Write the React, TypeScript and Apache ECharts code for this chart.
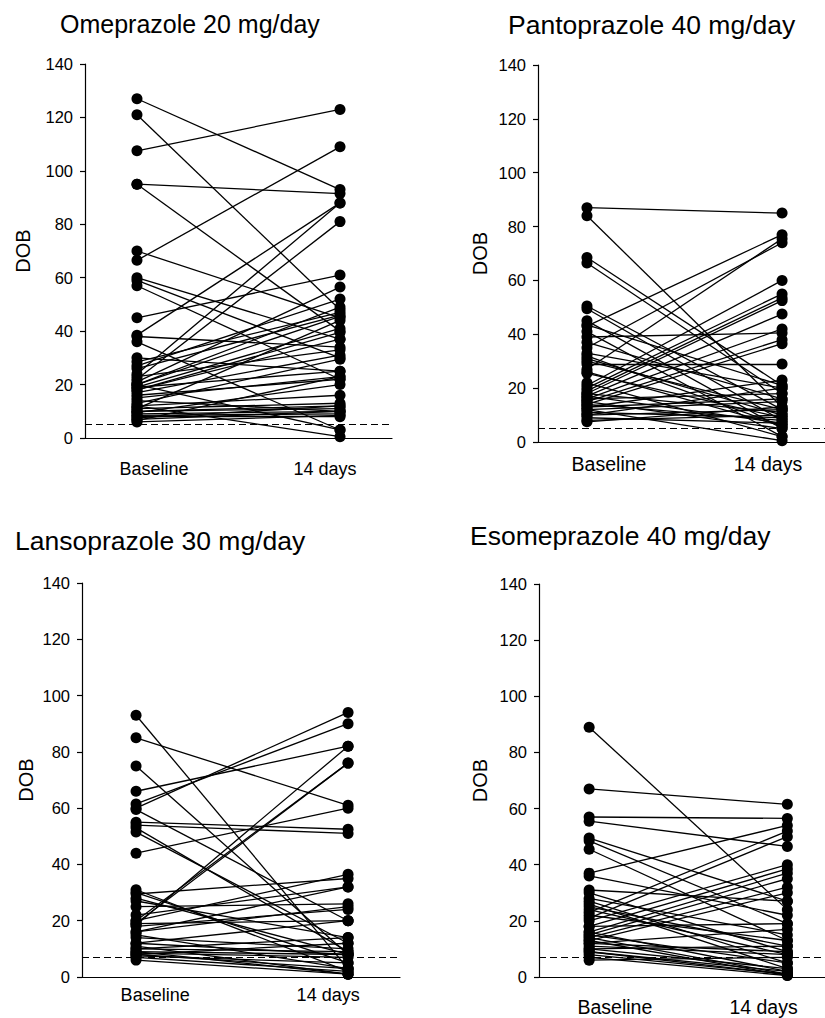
import React, { useEffect, useRef } from "react";
import * as echarts from "echarts";

// ---- Data ----
const titles = [
  "Omeprazole 20 mg/day",
  "Pantoprazole 40 mg/day",
  "Lansoprazole 30 mg/day",
  "Esomeprazole 40 mg/day",
];
const xLabels = ["Baseline", "14 days"];
const yTicks = [0, 20, 40, 60, 80, 100, 120, 140];
const yAxisName = "DOB";
const cutoffs = [5, 5, 7, 7];

const omeBaseline = [127, 121, 107.5, 95, 95, 70, 66.5, 60, 59, 57, 45, 38.5, 38, 36, 30, 28.5, 27, 24, 22, 21, 20, 20, 19, 18, 18, 17, 16, 15, 20, 13, 12, 11, 10, 10, 9.5, 9, 8.5, 8, 7.5, 7, 6.5, 6, 12, 26, 19, 14, 23, 11];
const omeDay14 = [93, 48, 123, 91.5, 40, 45, 109, 37, 30, 22, 61, 88, 34, 3, 25, 47, 52, 88, 81, 56.5, 49, 45.5, 41, 39.5, 37, 31, 22, 23, 3, 29.5, 16, 13, 12, 11, 20, 10, 9, 8, 12, 10, 23, 8.5, 0.5, 46, 25, 10, 33, 44];

const pantoBaseline = [87, 84, 68.5, 66.5, 50.5, 49.5, 45, 43, 41, 39, 37, 35, 33, 31, 29, 27, 26, 21, 20, 19, 18, 17, 16, 15, 14, 13, 12, 12, 11, 10, 10, 9, 8, 7.5, 14, 16, 25.5, 43.5, 18, 13, 22, 15, 17, 30, 32];
const pantoDay14 = [85, 13, 21, 18, 12, 8, 5, 77, 2, 40.5, 16, 74, 20, 10, 29, 75.5, 6, 60, 55, 53.5, 52.5, 47.5, 42, 38, 36.5, 23, 15, 0.5, 9, 12, 20, 7, 10, 13, 8, 18, 9, 21, 11, 16, 2, 5, 7, 12, 6];

const lansoBaseline = [93, 85, 75, 66, 61.5, 60, 59.5, 55, 54, 53, 51.5, 44, 31, 29.5, 28, 27, 25, 20, 19, 18.5, 22, 20, 19, 18, 16, 15, 14, 12, 11, 10, 9, 8.5, 8, 7.5, 7, 6, 16, 30, 10, 12, 8, 9];
const lansoDay14 = [3, 61, 8, 82, 90, 94, 20, 52.5, 51, 9, 12, 60, 2, 35, 8, 14, 26, 76, 76, 82, 32, 36.5, 20, 24, 32, 3, 10, 20, 1, 9, 8, 7, 12, 5, 2, 1, 25, 5, 14, 8, 3, 1];

const esoBaseline = [89, 67, 57, 55.5, 49.5, 48.5, 45.5, 37, 36, 31, 30, 28, 27, 25, 23, 21, 20, 18, 16, 15, 14, 13, 12, 11, 10, 9, 8, 7, 6, 14, 15, 13, 12, 16, 22, 24, 10, 9, 26, 18];
const esoDay14 = [24, 61.5, 56.5, 46.5, 27, 19, 13, 54, 22, 27, 9, 15, 5, 11, 52, 50, 40, 38.5, 37, 35, 32, 30, 17, 8, 3, 2, 1, 0.5, 7, 1, 5, 0.5, 9, 2, 13, 8, 11, 1, 3, 19];

const baselines = [omeBaseline, pantoBaseline, lansoBaseline, esoBaseline];
const day14s = [omeDay14, pantoDay14, lansoDay14, esoDay14];

// ---- Layout (pixels) ----
const layouts = [
  { left: 85, top: 64, width: 307, height: 374, xmin: 0.744, xmax: 2.256, lab: [1.084, 1.926], labMargin: 22, labSize: 18, nameGap: 52, titleLeft: 60, titleTop: 11, titleSize: 25 },
  { left: 538, top: 65, width: 287, height: 377, xmin: 0.749, xmax: 2.22, lab: [1.113, 1.928], labMargin: 12, labSize: 19.5, nameGap: 48, titleLeft: 508, titleTop: 11, titleSize: 26.5 },
  { left: 82, top: 583, width: 318, height: 394, xmin: 0.745, xmax: 2.245, lab: [1.09, 1.906], labMargin: 9, labSize: 18, nameGap: 46, titleLeft: 15, titleTop: 527, titleSize: 26.5 },
  { left: 539, top: 584, width: 286, height: 393, xmin: 0.747, xmax: 2.19, lab: [1.13, 1.88], labMargin: 20, labSize: 19.5, nameGap: 49, titleLeft: 470, titleTop: 522, titleSize: 26.5 },
];

const FONT = "'Liberation Sans', Arial, Helvetica, sans-serif";

function buildOption() {
  const grid: any[] = [];
  const xAxis: any[] = [];
  const yAxis: any[] = [];
  const series: any[] = [];
  const title: any[] = [];

  layouts.forEach((L, i) => {
    grid.push({ left: L.left, top: L.top, width: L.width, height: L.height, containLabel: false });
    title.push({
      text: titles[i],
      left: L.titleLeft,
      top: L.titleTop,
      padding: 0,
      textStyle: { fontFamily: FONT, fontWeight: "normal", fontSize: L.titleSize, color: "#000" },
    });
    xAxis.push({
      type: "value",
      gridIndex: i,
      min: L.xmin,
      max: L.xmax,
      splitLine: { show: false },
      axisTick: { show: false },
      axisLine: { show: true, onZero: false, lineStyle: { color: "#000", width: 1.2 } },
      axisLabel: {
        show: true,
        customValues: L.lab,
        margin: L.labMargin,
        fontFamily: FONT,
        fontSize: L.labSize,
        color: "#000",
        formatter: (v: number) => (v < 1.5 ? xLabels[0] : xLabels[1]),
      },
    });
    yAxis.push({
      type: "value",
      gridIndex: i,
      min: yTicks[0],
      max: yTicks[yTicks.length - 1],
      interval: yTicks[1] - yTicks[0],
      name: yAxisName,
      nameLocation: "middle",
      nameGap: L.nameGap,
      nameTextStyle: { fontFamily: FONT, fontSize: 20, color: "#000" },
      splitLine: { show: false },
      axisLine: { show: true, lineStyle: { color: "#000", width: 1.2 } },
      axisTick: { show: true, length: 5, lineStyle: { color: "#000", width: 1.2 } },
      axisLabel: { fontFamily: FONT, fontSize: 16.5, color: "#000", margin: 12 },
    });
    const b = baselines[i];
    const d = day14s[i];
    series.push({
      type: "lines",
      coordinateSystem: "cartesian2d",
      xAxisIndex: i,
      yAxisIndex: i,
      silent: true,
      lineStyle: { color: "#000", width: 1.3, opacity: 1 },
      data: b.map((v, k) => ({ coords: [[1, v], [2, d[k]]] })),
    });
    const pts: number[][] = [];
    b.forEach((v) => pts.push([1, v]));
    d.forEach((v) => pts.push([2, v]));
    series.push({
      type: "scatter",
      xAxisIndex: i,
      yAxisIndex: i,
      symbol: "circle",
      symbolSize: 11,
      itemStyle: { color: "#000", opacity: 1 },
      data: pts,
      markLine: {
        silent: true,
        symbol: ["none", "none"],
        label: { show: false },
        lineStyle: { color: "#000", type: [7, 4], width: 1.2, opacity: 1 },
        data: [{ yAxis: cutoffs[i] }],
      },
    });
  });

  return { animation: false, backgroundColor: "#fff", title, grid, xAxis, yAxis, series };
}

export default function App() {
  const ref = useRef<HTMLDivElement>(null);
  useEffect(() => {
    if (!ref.current) return;
    const chart = echarts.init(ref.current, undefined, { renderer: "svg" });
    chart.setOption(buildOption() as any);
    return () => chart.dispose();
  }, []);
  return (
    <div
      ref={ref}
      style={{ position: "absolute", left: 0, top: 0, width: 825, height: 1018, background: "#fff" }}
    />
  );
}
